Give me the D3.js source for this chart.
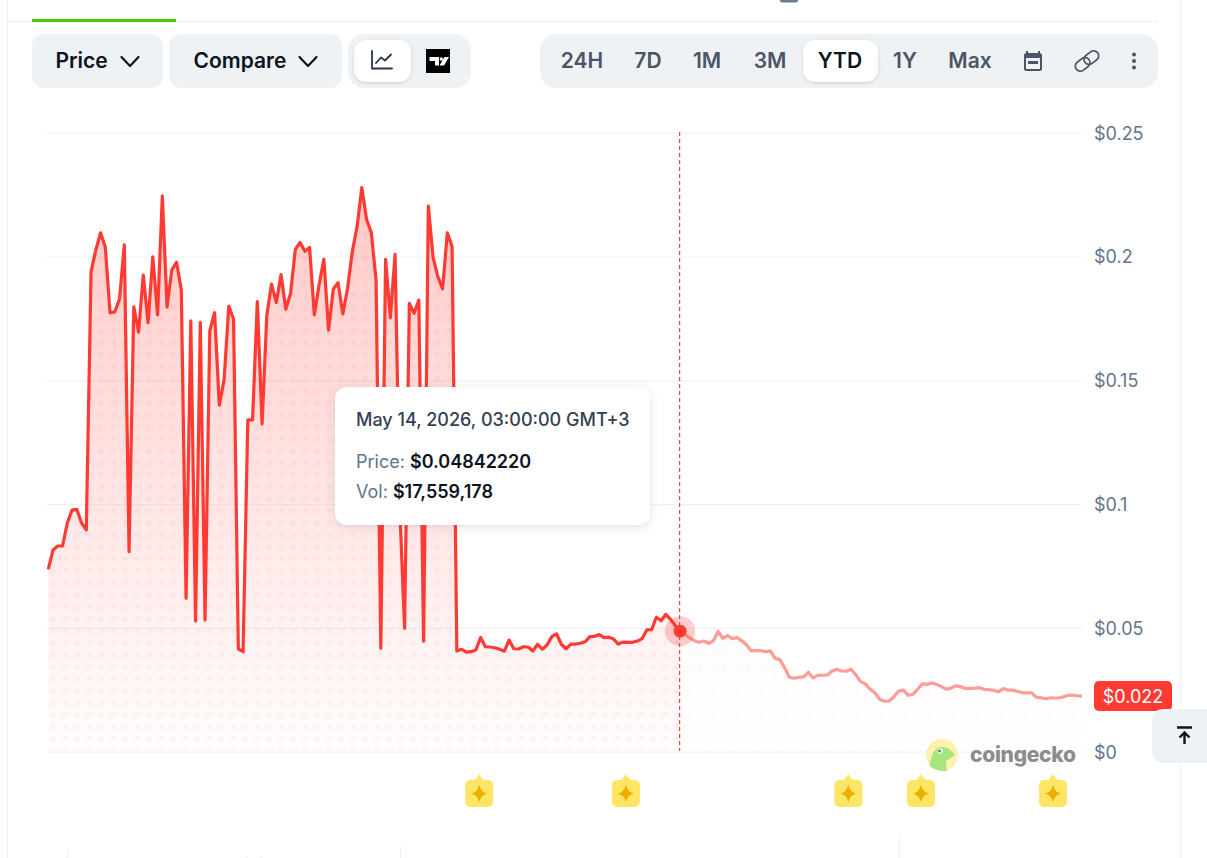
<!DOCTYPE html>
<html>
<head>
<meta charset="utf-8">
<title>Price chart</title>
<script src="https://cdn.jsdelivr.net/npm/d3@7"></script>
<style>
    html, body { margin: 0; padding: 0; background: #fff; overflow: hidden; }
    svg { display: block; }
    text { font-family: Inter, "Noto Sans", sans-serif; }
</style>
</head>
<body>
<div id="chart"></div>
<script>
// Daily prices from Jan 1, last entry is the latest (partial day) reading
const prices = [
    0.0735, 0.0812, 0.0828, 0.0828, 0.0921, 0.0973, 0.0976, 0.0921, 0.0893, 0.1936,
    0.2023, 0.2093, 0.2036, 0.1769, 0.1774, 0.1826, 0.2044, 0.0805, 0.1794, 0.1692,
    0.1922, 0.1730, 0.1996, 0.1761, 0.2242, 0.1793, 0.1943, 0.1974, 0.1862, 0.0617,
    0.1737, 0.0525, 0.1731, 0.0529, 0.1698, 0.1770, 0.1397, 0.1498, 0.1797, 0.1744,
    0.0412, 0.0401, 0.1337, 0.1337, 0.1815, 0.1321, 0.1761, 0.1886, 0.1811, 0.1924,
    0.1784, 0.1849, 0.2026, 0.2054, 0.2018, 0.2034, 0.1761, 0.1882, 0.1986, 0.1700,
    0.1866, 0.1891, 0.1765, 0.1869, 0.2017, 0.2118, 0.2275, 0.2147, 0.2093, 0.1902,
    0.0415, 0.1986, 0.1750, 0.2006, 0.0973, 0.0496, 0.1808, 0.1768, 0.1821, 0.0444,
    0.2201, 0.1994, 0.1916, 0.1866, 0.2093, 0.2037, 0.0404, 0.0411, 0.0399, 0.0401,
    0.0408, 0.0458, 0.0421, 0.0420, 0.0417, 0.0411, 0.0403, 0.0448, 0.0413, 0.0412,
    0.0421, 0.0420, 0.0404, 0.0431, 0.0411, 0.0428, 0.0462, 0.0473, 0.0431, 0.0413,
    0.0432, 0.0432, 0.0435, 0.0441, 0.0462, 0.0463, 0.0470, 0.0458, 0.0460, 0.0452,
    0.0432, 0.0440, 0.0439, 0.0439, 0.0444, 0.0454, 0.0489, 0.0490, 0.0540, 0.0526,
    0.0552, 0.0532, 0.0506, 0.0484, 0.0471, 0.0458, 0.0445, 0.0439, 0.0444, 0.0435,
    0.0445, 0.0483, 0.0455, 0.0466, 0.0454, 0.0458, 0.0445, 0.0428, 0.0404, 0.0405,
    0.0405, 0.0401, 0.0404, 0.0374, 0.0369, 0.0336, 0.0298, 0.0294, 0.0298, 0.0299,
    0.0318, 0.0295, 0.0306, 0.0306, 0.0307, 0.0323, 0.0330, 0.0323, 0.0322, 0.0330,
    0.0307, 0.0280, 0.0271, 0.0250, 0.0235, 0.0209, 0.0201, 0.0202, 0.0219, 0.0242,
    0.0246, 0.0225, 0.0229, 0.0249, 0.0272, 0.0269, 0.0275, 0.0269, 0.0260, 0.0250,
    0.0254, 0.0263, 0.0260, 0.0253, 0.0253, 0.0254, 0.0256, 0.0249, 0.0248, 0.0245,
    0.0239, 0.0252, 0.0246, 0.0246, 0.0241, 0.0235, 0.0235, 0.0235, 0.0217, 0.0215,
    0.0211, 0.0215, 0.0214, 0.0215, 0.0221, 0.0226, 0.0225, 0.0222, 0.0222
];
const startDate = Date.UTC(2026, 0, 1);
const latestDate = Date.UTC(2026, 7, 6, 14, 24);
const hoverDate = Date.UTC(2026, 4, 14);
const eventDates = ['2026-04-01T17:00Z', '2026-05-02T14:00Z', '2026-06-18T10:00Z', '2026-07-03T17:00Z', '2026-07-31T12:00Z'];
const yTicks = [0, 0.05, 0.1, 0.15, 0.2, 0.25];
const yTickLabels = ['$0', '$0.05', '$0.1', '$0.15', '$0.2', '$0.25'];
const rangeLabels = ['24H', '7D', '1M', '3M', 'YTD', '1Y', 'Max'];
const activeRange = 'YTD';
const tooltipDate = 'May 14, 2026, 03:00:00 GMT+3';
const tooltipPrice = '$0.04842220';
const tooltipVol = '$17,559,178';
const latestLabel = '$0.022';

// Layout
const width = 1207, height = 858;
const plot = { left: 48.3, right: 1082, top: 132, bottom: 751 };
const rangeCenters = [582, 648, 707, 770, 840, 905, 970];
const RED = '#ff3a33';

const svg = d3.select('#chart').append('svg')
    .attr('width', width)
    .attr('height', height);
const defs = svg.append('defs');

const dates = prices.map((p, i) => i === prices.length - 1 ? latestDate : startDate + i * 864e5);
const points = prices.map((p, i) => ({ date: dates[i], price: p }));

const x = d3.scaleUtc().domain([startDate, latestDate]).range([plot.left, plot.right]);
const y = d3.scaleLinear().domain([0, 0.25]).range([plot.bottom, plot.top]);
const hoverX = x(hoverDate);
const hoverPrice = prices[dates.indexOf(hoverDate)];

// Page frame
const frame = svg.append('g').attr('stroke', '#eff2f5').attr('fill', 'none');
frame.append('line').attr('x1', 7.5).attr('x2', 7.5).attr('y1', 0).attr('y2', height);
frame.append('line').attr('x1', 1180.5).attr('x2', 1180.5).attr('y1', 0).attr('y2', height);
frame.append('line').attr('x1', 8).attr('x2', 1158).attr('y1', 21.5).attr('y2', 21.5).attr('stroke-width', 1.5);
svg.append('rect').attr('x', 32).attr('y', 19).attr('width', 144).attr('height', 3).attr('fill', '#4bcc00');
svg.append('path').attr('d', 'M780 0H798V0.5Q798 2.5 796 2.5H782Q780 2.5 780 0.5Z').attr('fill', '#6b7a90');

// Cut off tick marks of the section underneath
[[67, 850], [246, 856], [261, 855], [400, 845], [899, 835]].forEach(([tx, ty]) => {
    frame.append('line').attr('x1', tx + 0.5).attr('x2', tx + 0.5).attr('y1', ty).attr('y2', height);
});

// Toolbar
function pill(px, py, w, h, r, fill) {
    return svg.append('rect').attr('x', px).attr('y', py).attr('width', w).attr('height', h).attr('rx', r).attr('fill', fill);
}
function chevron(cx, cy) {
    svg.append('path')
        .attr('d', `M${cx - 8.5} ${cy - 4.5}L${cx} ${cy + 4.5}L${cx + 8.5} ${cy - 4.5}`)
        .attr('fill', 'none').attr('stroke', '#0d1421').attr('stroke-width', 2.2)
        .attr('stroke-linecap', 'round').attr('stroke-linejoin', 'round');
}
function toolbarText(label, tx, color) {
    svg.append('text').attr('x', tx).attr('y', 68).attr('text-anchor', 'middle')
        .attr('font-size', 21).attr('font-weight', 600).attr('fill', color).text(label);
}

const shadow = defs.append('filter').attr('id', 'btnShadow').attr('x', '-20%').attr('y', '-20%').attr('width', '140%').attr('height', '150%');
shadow.append('feDropShadow').attr('dx', 0).attr('dy', 1).attr('stdDeviation', 1.5).attr('flood-color', '#64748b').attr('flood-opacity', 0.3);

pill(32, 34, 131, 54, 12, '#eff2f5');
toolbarText('Price', 81.5, '#0d1421');
chevron(130, 61.5);
pill(169, 34, 173, 54, 12, '#eff2f5');
toolbarText('Compare', 240, '#0d1421');
chevron(308, 61.5);
pill(348, 34, 123, 54, 16, '#eff2f5');
pill(354, 40, 57, 42, 12, '#fff').attr('filter', 'url(#btnShadow)');

// Line chart icon
svg.append('path')
    .attr('d', 'M372 51V68.5H392M376 63L381 57.5L385 60.5L391 54.5')
    .attr('fill', 'none').attr('stroke', '#2b3648').attr('stroke-width', 1.8)
    .attr('stroke-linecap', 'round').attr('stroke-linejoin', 'round');

// TradingView icon
svg.append('rect').attr('x', 426).attr('y', 49).attr('width', 24).attr('height', 24).attr('fill', '#000');
svg.append('path').attr('d', 'M429.5 57H439V65.5H435V61H429.5Z M444.5 57H449L444 65.5H439.5Z').attr('fill', '#fff');
svg.append('circle').attr('cx', 441.3).attr('cy', 59).attr('r', 1.7).attr('fill', '#fff');

pill(540, 34, 618, 54, 16, '#eff2f5');
pill(803, 40, 75, 42, 12, '#fff').attr('filter', 'url(#btnShadow)');
rangeLabels.forEach((label, i) => {
    toolbarText(label, rangeCenters[i], label === activeRange ? '#0d1421' : '#4a5568');
});

// Calendar icon
svg.append('path')
    .attr('d', 'M1027 51V54H1039V51 M1025 58V68.5Q1025 70 1026.5 70H1039.5Q1041 70 1041 68.5V55.5Q1041 54 1039.5 54H1026.5Q1025 54 1025 55.5Z')
    .attr('fill', 'none').attr('stroke', '#4a5568').attr('stroke-width', 2);
svg.append('rect').attr('x', 1025).attr('y', 54).attr('width', 16).attr('height', 4).attr('fill', '#4a5568');
svg.append('rect').attr('x', 1028).attr('y', 61).attr('width', 10).attr('height', 3).attr('fill', '#4a5568');

// Link icon
const link = svg.append('g').attr('transform', 'translate(1087,61) rotate(-38)')
    .attr('fill', 'none').attr('stroke', '#4a5568').attr('stroke-width', 1.7);
link.append('rect').attr('x', -13.5).attr('y', -5).attr('width', 16).attr('height', 10).attr('rx', 5);
link.append('rect').attr('x', -2.5).attr('y', -5).attr('width', 16).attr('height', 10).attr('rx', 5);

// Kebab menu
[-6.5, 0, 6.5].forEach(dy => {
    svg.append('circle').attr('cx', 1134).attr('cy', 61 + dy).attr('r', 2).attr('fill', '#4a5568');
});

// Grid and y axis
const grid = svg.append('g')
    .attr('transform', `translate(${plot.right},0.7)`)
    .call(d3.axisLeft(y).tickValues(yTicks).tickSize(plot.right - 47).tickFormat(''));
grid.select('.domain').remove();
grid.selectAll('line').attr('stroke', '#eff2f5').attr('stroke-width', 1.2);

const yAxis = svg.append('g')
    .attr('transform', 'translate(1094,1.3)')
    .call(d3.axisRight(y).tickValues(yTicks).tickSize(0).tickPadding(0)
        .tickFormat((d, i) => yTickLabels[i]));
yAxis.select('.domain').remove();
yAxis.selectAll('text')
    .attr('fill', '#64748b')
    .attr('font-size', 18)
    .attr('font-family', 'Inter, sans-serif');

// Area fill and dotted texture
const gradient = defs.append('linearGradient').attr('id', 'areaFill')
    .attr('gradientUnits', 'userSpaceOnUse')
    .attr('x1', 0).attr('x2', 0).attr('y1', 187).attr('y2', plot.bottom);
gradient.append('stop').attr('offset', 0).attr('stop-color', RED).attr('stop-opacity', 0.27);
gradient.append('stop').attr('offset', 1).attr('stop-color', RED).attr('stop-opacity', 0.01);

const dots = defs.append('pattern').attr('id', 'areaDots')
    .attr('patternUnits', 'userSpaceOnUse')
    .attr('x', -1).attr('y', 1).attr('width', 12).attr('height', 12);
dots.append('circle').attr('cx', 6).attr('cy', 6).attr('r', 2.7).attr('fill', RED).attr('fill-opacity', 0.05);

defs.append('clipPath').attr('id', 'beforeHover').append('rect')
    .attr('x', 0).attr('y', 0).attr('width', hoverX).attr('height', height);
defs.append('clipPath').attr('id', 'afterHover').append('rect')
    .attr('x', hoverX).attr('y', 0).attr('width', width - hoverX).attr('height', height);

const area = d3.area().x(d => x(d.date)).y0(plot.bottom).y1(d => y(d.price));
const line = d3.line().x(d => x(d.date)).y(d => y(d.price));

function drawSeries(clipId, lineOpacity, areaOpacity) {
    const g = svg.append('g').attr('clip-path', `url(#${clipId})`);
    const fills = g.append('g').attr('opacity', areaOpacity);
    fills.append('path').datum(points).attr('d', area).attr('fill', 'url(#areaFill)');
    fills.append('path').datum(points).attr('d', area).attr('fill', 'url(#areaDots)');
    g.append('path').datum(points).attr('d', line)
        .attr('fill', 'none').attr('stroke', RED).attr('stroke-width', 3.2)
        .attr('stroke-linejoin', 'round').attr('stroke-opacity', lineOpacity);
}
drawSeries('beforeHover', 1, 1);
drawSeries('afterHover', 0.5, 0.25);

// Crosshair and hovered point
svg.append('line')
    .attr('x1', hoverX - 0.5).attr('x2', hoverX - 0.5)
    .attr('y1', plot.top).attr('y2', plot.bottom)
    .attr('stroke', '#e0474a').attr('stroke-width', 1.2).attr('stroke-dasharray', '4 3');
svg.append('circle').attr('cx', hoverX).attr('cy', y(hoverPrice)).attr('r', 15).attr('fill', RED).attr('opacity', 0.25);
svg.append('circle').attr('cx', hoverX).attr('cy', y(hoverPrice)).attr('r', 6.5).attr('fill', RED);

// Latest price tag
const latest = points[points.length - 1];
const tagY = y(latest.price);
svg.append('rect').attr('x', 1094).attr('y', tagY - 15).attr('width', 78).attr('height', 30).attr('rx', 5).attr('fill', RED);
svg.append('text').attr('x', 1133).attr('y', tagY + 6.5).attr('text-anchor', 'middle')
    .attr('font-size', 18).attr('fill', '#fff').text(latestLabel);

// Scroll to top button
svg.append('path').attr('d', `M${width} 709H1164Q1152 709 1152 721V751Q1152 763 1164 763H${width}Z`).attr('fill', '#eff2f5');
svg.append('path')
    .attr('d', 'M1177 727.5H1192 M1184.5 744V733 M1179.5 737.5L1184.5 732.5L1189.5 737.5')
    .attr('fill', 'none').attr('stroke', '#0d1421').attr('stroke-width', 2.4);

// Watermark
svg.append('circle').attr('cx', 942).attr('cy', 755).attr('r', 16).attr('fill', '#fdf1ad');
svg.append('path')
    .attr('d', 'M929.5 766Q931 755 935 750Q938 746.5 944 747Q950 748 955 755Q949 759 946 761Q946 766 947 771Q937 772 929.5 766Z')
    .attr('fill', '#a5e67e');
svg.append('circle').attr('cx', 940).attr('cy', 751).attr('r', 2.6).attr('fill', '#fff');
svg.append('circle').attr('cx', 939.5).attr('cy', 751).attr('r', 1.4).attr('fill', '#6b6b6b');
svg.append('text').attr('x', 970).attr('y', 762)
    .attr('font-size', 21).attr('font-weight', 800).attr('fill', '#8c8c8c')
    .attr('textLength', 106).attr('lengthAdjust', 'spacing')
    .text('coingecko');

// Event markers under the axis
eventDates.map(d => x(new Date(d))).forEach(cx => {
    const g = svg.append('g').attr('transform', `translate(${cx},793.5)`);
    g.append('path').attr('d', 'M-5 -13L0 -19L5 -13Z').attr('fill', '#ffe566');
    g.append('rect').attr('x', -14).attr('y', -13.5).attr('width', 28).attr('height', 27).attr('rx', 5).attr('fill', '#ffe566');
    g.append('path').attr('d', 'M0 -9Q1.5 -1.5 8 0Q1.5 1.5 0 9Q-1.5 1.5 -8 0Q-1.5 -1.5 0 -9Z').attr('fill', '#e9b000');
});

// Tooltip
const tipShadow = defs.append('filter').attr('id', 'tipShadow').attr('x', '-10%').attr('y', '-10%').attr('width', '120%').attr('height', '125%');
tipShadow.append('feDropShadow').attr('dx', 0).attr('dy', 2).attr('stdDeviation', 4).attr('flood-color', '#475569').attr('flood-opacity', 0.18);

const tip = svg.append('g');
tip.append('rect').attr('x', 335).attr('y', 387).attr('width', 315).attr('height', 138).attr('rx', 12)
    .attr('fill', '#fff').attr('filter', 'url(#tipShadow)');
tip.append('text').attr('x', 356).attr('y', 426).attr('font-size', 18).attr('font-weight', 500).attr('fill', '#334155')
    .text(tooltipDate);
const priceRow = tip.append('text').attr('x', 356).attr('y', 468).attr('font-size', 18);
priceRow.append('tspan').attr('fill', '#64748b').text('Price: ');
priceRow.append('tspan').attr('fill', '#0d1421').attr('font-weight', 600).text(tooltipPrice);
const volRow = tip.append('text').attr('x', 356).attr('y', 498).attr('font-size', 18);
volRow.append('tspan').attr('fill', '#64748b').text('Vol: ');
volRow.append('tspan').attr('fill', '#0d1421').attr('font-weight', 600).text(tooltipVol);
</script>
</body>
</html>
